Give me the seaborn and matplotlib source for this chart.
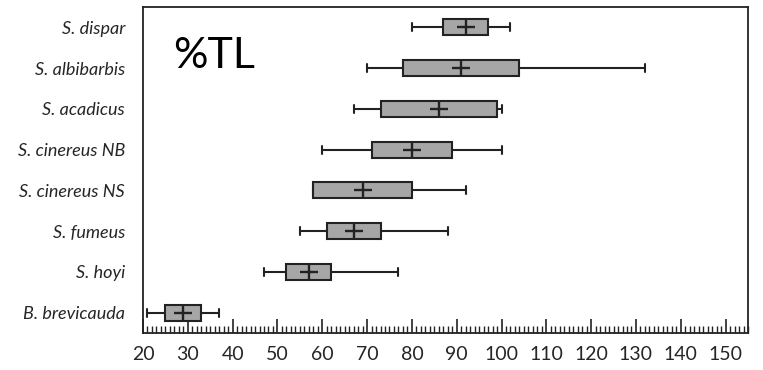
import matplotlib
matplotlib.use("Agg")
import matplotlib.pyplot as plt
from matplotlib.ticker import MultipleLocator
import seaborn as sns
import pandas as pd

species = ["S. dispar", "S. albibarbis", "S. acadicus", "S. cinereus NB",
           "S. cinereus NS", "S. fumeus", "S. hoyi", "B. brevicauda"]
wmin = [80, 70, 67, 60, 58, 55, 47, 21]
q1 = [87, 78, 73, 71, 58, 61, 52, 25]
mean = [92, 91, 86, 80, 69, 67, 57, 29]
q3 = [97, 104, 99, 89, 80, 73, 62, 33]
wmax = [102, 132, 100, 100, 92, 88, 77, 37]
xticks = list(range(20, 151, 10))

rows = []
for i, sp in enumerate(species):
    for v in (wmin[i], q1[i], mean[i], q3[i], wmax[i]):
        rows.append({"species": sp, "value": v})
df = pd.DataFrame(rows)
means = pd.DataFrame({"species": species, "value": mean})

sns.set_style("white")
plt.rcParams["font.family"] = ["Lato", "DejaVu Sans"]

fig = plt.figure(figsize=(7.63, 3.70), dpi=100)
ax = fig.add_axes([143 / 763, 37 / 370, 605 / 763, 326 / 370])

lc = "#222222"
sns.boxplot(data=df, x="value", y="species", order=species, orient="h",
            whis=(0, 100), width=0.39, color="#a6a6a6", linecolor=lc,
            linewidth=1.5, saturation=1, fliersize=0, ax=ax,
            medianprops={"linewidth": 0, "alpha": 0},
            capwidths=0.2)
sns.scatterplot(data=means, x="value", y="species", marker="+", s=150,
                color=lc, linewidth=1.7, ax=ax, zorder=5, legend=False)

ax.set_xlim(20, 155)
ax.set_ylim(7.5, -0.5)
ax.set_xticks(xticks)
ax.xaxis.set_minor_locator(MultipleLocator(1))
ax.tick_params(axis="x", which="major", direction="in", length=10, width=1.2,
               color=lc, labelsize=14, pad=9, bottom=True)
ax.tick_params(axis="x", which="minor", direction="in", length=5, width=1.0,
               color=lc, bottom=True)
ax.tick_params(axis="y", length=0, pad=13)
for lab in ax.get_yticklabels():
    lab.set_fontstyle("italic")
    lab.set_fontsize(13)
for sp in ax.spines.values():
    sp.set_visible(True)
    sp.set_color(lc)
    sp.set_linewidth(1.3)
ax.set_xlabel("")
ax.set_ylabel("")
ax.text(0.05, 0.85, "%TL", transform=ax.transAxes, fontsize=31,
        ha="left", va="center", color="black")

fig.savefig("out.png", dpi=100)
